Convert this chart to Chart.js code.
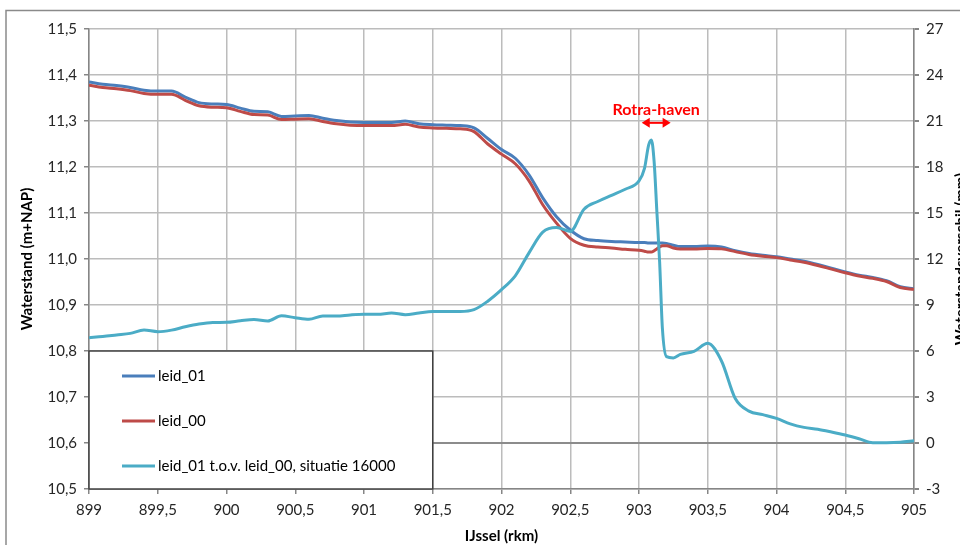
<!DOCTYPE html>
<html lang="nl">
<head>
  <meta charset="UTF-8">
  <title>Waterstand IJssel</title>
  <script src="https://cdn.jsdelivr.net/npm/chart.js"></script>
  <style>
    body {
      margin: 0;
      background: #fff;
    }
    #wrap {
      width: 960px;
      height: 545px;
    }
  </style>
</head>
<body>
  <div id="wrap">
    <canvas id="chart" width="960" height="545"></canvas>
  </div>

  <script>
    // rivierkilometer (rkm)
    const km = [
      899.0, 899.1, 899.2, 899.3, 899.4, 899.5, 899.6, 899.7, 899.8, 899.9,
      900.0, 900.1, 900.2, 900.3, 900.4, 900.5, 900.6, 900.7, 900.8, 900.9,
      901.0, 901.1, 901.2, 901.3, 901.4, 901.5, 901.6, 901.7, 901.8, 901.9,
      902.0, 902.1, 902.2, 902.3, 902.4, 902.5, 902.6, 902.7, 902.8, 902.9,
      903.0, 903.04, 903.07, 903.09, 903.11, 903.13, 903.15, 903.17, 903.2, 903.25,
      903.3, 903.4, 903.5, 903.6, 903.7, 903.8, 903.9,
      904.0, 904.1, 904.2, 904.3, 904.4, 904.5, 904.6, 904.7, 904.8, 904.9,
      905.0
    ];

    // waterstand (m+NAP)
    const leid01 = [
      11.385, 11.380, 11.377, 11.373, 11.367, 11.365, 11.365, 11.352, 11.340, 11.337,
      11.336, 11.328, 11.321, 11.320, 11.310, 11.311, 11.312, 11.306, 11.301, 11.298,
      11.297, 11.297, 11.297, 11.300, 11.294, 11.292, 11.291, 11.290, 11.285, 11.262,
      11.238, 11.219, 11.183, 11.133, 11.092, 11.063, 11.044, 11.040, 11.038, 11.037,
      11.036, 11.036, 11.035, 11.035, 11.035, 11.035, 11.035, 11.035, 11.034, 11.030,
      11.027, 11.027, 11.028, 11.026, 11.018, 11.012, 11.008,
      11.005, 11.000, 10.995, 10.988, 10.980, 10.972, 10.965, 10.960, 10.953, 10.940,
      10.935
    ];

    const leid00 = [
      11.378, 11.373, 11.370, 11.366, 11.360, 11.358, 11.358, 11.345, 11.333, 11.330,
      11.329, 11.321, 11.314, 11.313, 11.303, 11.304, 11.305, 11.299, 11.294, 11.291,
      11.290, 11.290, 11.290, 11.293, 11.287, 11.285, 11.284, 11.283, 11.277, 11.250,
      11.228, 11.207, 11.170, 11.118, 11.078, 11.045, 11.030, 11.026, 11.024, 11.021,
      11.019, 11.017, 11.015, 11.015, 11.018, 11.022, 11.026, 11.029, 11.029, 11.024,
      11.022, 11.022, 11.023, 11.022, 11.016, 11.010, 11.006,
      11.003, 10.998, 10.993, 10.986, 10.978, 10.970, 10.963, 10.958, 10.951, 10.938,
      10.934
    ];

    // waterstandsverschil (mm), rechter as
    const verschil = [
      6.87, 6.95, 7.05, 7.15, 7.37, 7.26, 7.36, 7.58, 7.76, 7.86,
      7.87, 7.97, 8.05, 7.96, 8.30, 8.17, 8.07, 8.28, 8.28, 8.35,
      8.39, 8.39, 8.48, 8.37, 8.48, 8.57, 8.58, 8.58, 8.70, 9.25,
      10.0, 10.9, 12.4, 13.75, 14.05, 13.8, 15.25, 15.75, 16.15, 16.55,
      17.09, 17.91, 19.43, 19.76, 18.35, 15.08, 11.82, 7.5, 5.63, 5.55,
      5.78, 5.98, 6.5, 5.35, 2.9, 2.08, 1.85,
      1.61, 1.25, 1.02, 0.9, 0.72, 0.52, 0.28, 0.02, 0.02, 0.05,
      0.15
    ];

    const seriesNames = ['leid_01', 'leid_00', 'leid_01 t.o.v. leid_00, situatie 16000'];
    const seriesColors = ['#4a7ebb', '#be4b48', '#4bacc6'];

    // Rotra-haven markering
    const rotraLabel = 'Rotra-haven';
    const rotraFrom = 903.02;
    const rotraTo = 903.23;
    const rotraLevel = 11.296;
    const rotraTextLevel = 11.324;

    const comma = v => String(Math.round(v * 10) / 10).replace('.', ',');
    const toXY = arr => arr.map((v, i) => ({ x: km[i], y: v }));

    Chart.defaults.font.family = 'Lato, "Open Sans", sans-serif';
    Chart.defaults.font.size = 15;
    Chart.defaults.color = '#262626';

    // outer frame like the Excel chart area
    const framePlugin = {
      id: 'frame',
      beforeDraw(chart) {
        const ctx = chart.ctx;
        ctx.save();
        ctx.fillStyle = '#fff';
        ctx.fillRect(0, 0, chart.width, chart.height);
        ctx.strokeStyle = '#8a8a8a';
        ctx.lineWidth = 1.5;
        ctx.beginPath();
        ctx.moveTo(6, chart.height + 2);
        ctx.lineTo(6, 10.5);
        ctx.lineTo(chart.width + 2, 10.5);
        ctx.stroke();
        ctx.restore();
      }
    };

    // Rotra-haven arrow + label, right axis title, boxed legend
    const extrasPlugin = {
      id: 'extras',
      afterDraw(chart) {
        const ctx = chart.ctx;
        const xs = chart.scales.x;
        const ys = chart.scales.y;
        const area = chart.chartArea;
        ctx.save();

        // Rotra-haven
        const x1 = xs.getPixelForValue(rotraFrom);
        const x2 = xs.getPixelForValue(rotraTo);
        const ya = ys.getPixelForValue(rotraLevel);
        ctx.strokeStyle = '#ff0000';
        ctx.fillStyle = '#ff0000';
        ctx.lineWidth = 2;
        ctx.beginPath();
        ctx.moveTo(x1 + 4, ya);
        ctx.lineTo(x2 - 4, ya);
        ctx.stroke();
        ctx.beginPath();
        ctx.moveTo(x1, ya);
        ctx.lineTo(x1 + 8, ya - 5);
        ctx.lineTo(x1 + 8, ya + 5);
        ctx.closePath();
        ctx.fill();
        ctx.beginPath();
        ctx.moveTo(x2, ya);
        ctx.lineTo(x2 - 8, ya - 5);
        ctx.lineTo(x2 - 8, ya + 5);
        ctx.closePath();
        ctx.fill();
        ctx.font = 'bold 16px Lato, sans-serif';
        ctx.textAlign = 'center';
        ctx.textBaseline = 'middle';
        ctx.fillText(rotraLabel, (x1 + x2) / 2, ys.getPixelForValue(rotraTextLevel));

        // right axis title (reads bottom to top, partly cut off)
        ctx.fillStyle = '#000';
        ctx.font = 'bold 15px Lato, sans-serif';
        ctx.translate(961, (area.top + area.bottom) / 2);
        ctx.rotate(-Math.PI / 2);
        ctx.fillText('Waterstandsverschil (mm)', 0, 0);
        ctx.setTransform(1, 0, 0, 1, 0, 0);

        // legend box
        const lx = area.left;
        const lw = xs.getPixelForValue(901.5) - area.left;
        const ly = ys.getPixelForValue(10.8);
        const lh = area.bottom - ly;
        ctx.fillStyle = '#fff';
        ctx.fillRect(lx, ly, lw, lh);
        ctx.strokeStyle = '#404040';
        ctx.lineWidth = 1.5;
        ctx.strokeRect(lx, ly, lw, lh);

        ctx.font = '15px Lato, sans-serif';
        ctx.textAlign = 'left';
        ctx.textBaseline = 'middle';
        seriesNames.forEach((name, i) => {
          const y = ly + 25 + i * 45;
          ctx.strokeStyle = seriesColors[i];
          ctx.lineWidth = 3;
          ctx.beginPath();
          ctx.moveTo(lx + 33, y);
          ctx.lineTo(lx + 66, y);
          ctx.stroke();
          ctx.fillStyle = '#000';
          ctx.fillText(name, lx + 69, y);
        });
        ctx.restore();
      }
    };

    new Chart(document.getElementById('chart'), {
      type: 'line',
      data: {
        datasets: [
          {
            label: seriesNames[0],
            data: toXY(leid01),
            yAxisID: 'y',
            borderColor: seriesColors[0],
            borderWidth: 3,
            order: 3
          },
          {
            label: seriesNames[1],
            data: toXY(leid00),
            yAxisID: 'y',
            borderColor: seriesColors[1],
            borderWidth: 3,
            order: 2
          },
          {
            label: seriesNames[2],
            data: toXY(verschil),
            yAxisID: 'y2',
            borderColor: seriesColors[2],
            borderWidth: 3,
            order: 1
          }
        ]
      },
      options: {
        responsive: false,
        animation: false,
        devicePixelRatio: 1,
        layout: { padding: { top: 29, left: 0, right: 0, bottom: 0 } },
        elements: {
          point: { radius: 0 },
          line: { cubicInterpolationMode: 'monotone', fill: false }
        },
        plugins: {
          legend: { display: false },
          tooltip: { enabled: false }
        },
        scales: {
          x: {
            type: 'linear',
            min: 899,
            max: 905,
            ticks: {
              stepSize: 0.5,
              padding: 7,
              callback: v => comma(v)
            },
            grid: { color: '#bcbcbc', lineWidth: 1.5, tickLength: 5, tickColor: '#868686' },
            border: { color: '#868686', width: 1.5 },
            title: {
              display: true,
              text: 'IJssel (rkm)',
              color: '#000',
              font: { weight: 'bold', size: 15 },
              padding: { top: 0, bottom: 0 }
            },
            afterFit: s => { s.height = 56; }
          },
          y: {
            position: 'left',
            min: 10.5,
            max: 11.5,
            ticks: {
              stepSize: 0.1,
              padding: 7,
              callback: v => Number(v).toFixed(1).replace('.', ',')
            },
            grid: { color: '#bcbcbc', lineWidth: 1.5, tickLength: 5, tickColor: '#868686' },
            border: { color: '#868686', width: 1.5 },
            title: {
              display: true,
              text: 'Waterstand (m+NAP)',
              color: '#000',
              font: { weight: 'bold', size: 15 },
              padding: { top: 18, bottom: 0 }
            },
            afterFit: s => { s.width = 89; }
          },
          y2: {
            position: 'right',
            min: -3,
            max: 27,
            ticks: {
              stepSize: 3,
              padding: 7
            },
            grid: {
              color: c => (c.tick && c.tick.value === 0 ? '#8c8c8c' : 'rgba(0,0,0,0)'),
              lineWidth: 2,
              tickLength: 5,
              tickColor: '#868686'
            },
            border: { color: '#868686', width: 1.5 },
            afterFit: s => { s.width = 46; }
          }
        }
      },
      plugins: [framePlugin, extrasPlugin]
    });
  </script>
</body>
</html>
